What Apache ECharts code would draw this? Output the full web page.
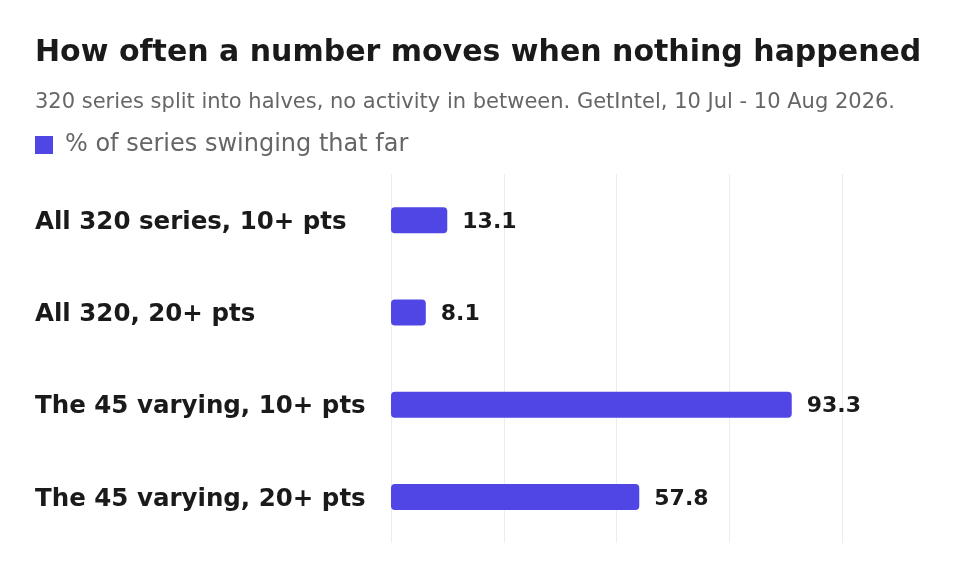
<!DOCTYPE html>
<html>
<head>
<meta charset="utf-8">
<script src="https://cdn.jsdelivr.net/npm/echarts@6/dist/echarts.min.js"></script>
<style>
  html, body { margin: 0; padding: 0; background: #fff; }
  #chart { width: 960px; height: 588px; }
</style>
</head>
<body>
<div id="chart"></div>
<script>
// 数据
const categories = [
  'All 320 series, 10+ pts',
  'All 320, 20+ pts',
  'The 45 varying, 10+ pts',
  'The 45 varying, 20+ pts'
];
const shareValues = [13.1, 8.1, 93.3, 57.8];
const seriesName = '% of series swinging that far';

const FONT = '"DejaVu Sans", sans-serif';

const chart = echarts.init(document.getElementById('chart'));

const option = {
  backgroundColor: '#fff',
  title: {
    text: 'How often a number moves when nothing happened',
    subtext: '320 series split into halves, no activity in between. GetIntel, 10 Jul - 10 Aug 2026.',
    left: 30,
    top: 33,
    itemGap: 24,
    textStyle: {
      fontFamily: FONT,
      fontSize: 30,
      fontWeight: 'bold',
      color: '#1a1a1a'
    },
    subtextStyle: {
      fontFamily: FONT,
      fontSize: 21,
      color: '#666'
    }
  },
  legend: {
    left: 30,
    top: 128,
    icon: 'rect',
    itemWidth: 18,
    itemHeight: 18,
    itemGap: 10,
    textStyle: {
      fontFamily: FONT,
      fontSize: 24,
      color: '#666',
      padding: [0, 0, 0, 7]
    },
    data: [seriesName]
  },
  grid: {
    left: 391,
    right: 118,
    top: 174,
    bottom: 45
  },
  xAxis: {
    type: 'value',
    min: 0,
    max: 105,
    interval: 26.25,
    axisLabel: { show: false },
    axisLine: { show: false },
    axisTick: { show: false },
    splitLine: {
      lineStyle: { color: '#ececec', width: 1 }
    }
  },
  yAxis: {
    type: 'category',
    inverse: true,
    data: categories,
    axisLine: { show: false },
    axisTick: { show: false },
    axisLabel: {
      margin: 356,
      align: 'left',
      formatter: '{c|{value}}',
      rich: {
        c: {
          padding: [5, 0, 0, 0],
          fontFamily: FONT,
          fontSize: 24.5,
          fontWeight: 'bold',
          color: '#1a1a1a'
        }
      }
    }
  },
  series: [{
    name: seriesName,
    type: 'bar',
    data: shareValues,
    barWidth: 26,
    itemStyle: {
      color: '#4f46e5',
      borderRadius: 4
    },
    label: {
      show: true,
      position: 'right',
      distance: 15,
      offset: [0, 2],
      fontFamily: FONT,
      fontSize: 22,
      fontWeight: 'bold',
      color: '#1a1a1a'
    }
  }]
};

chart.setOption(option);
</script>
</body>
</html>
